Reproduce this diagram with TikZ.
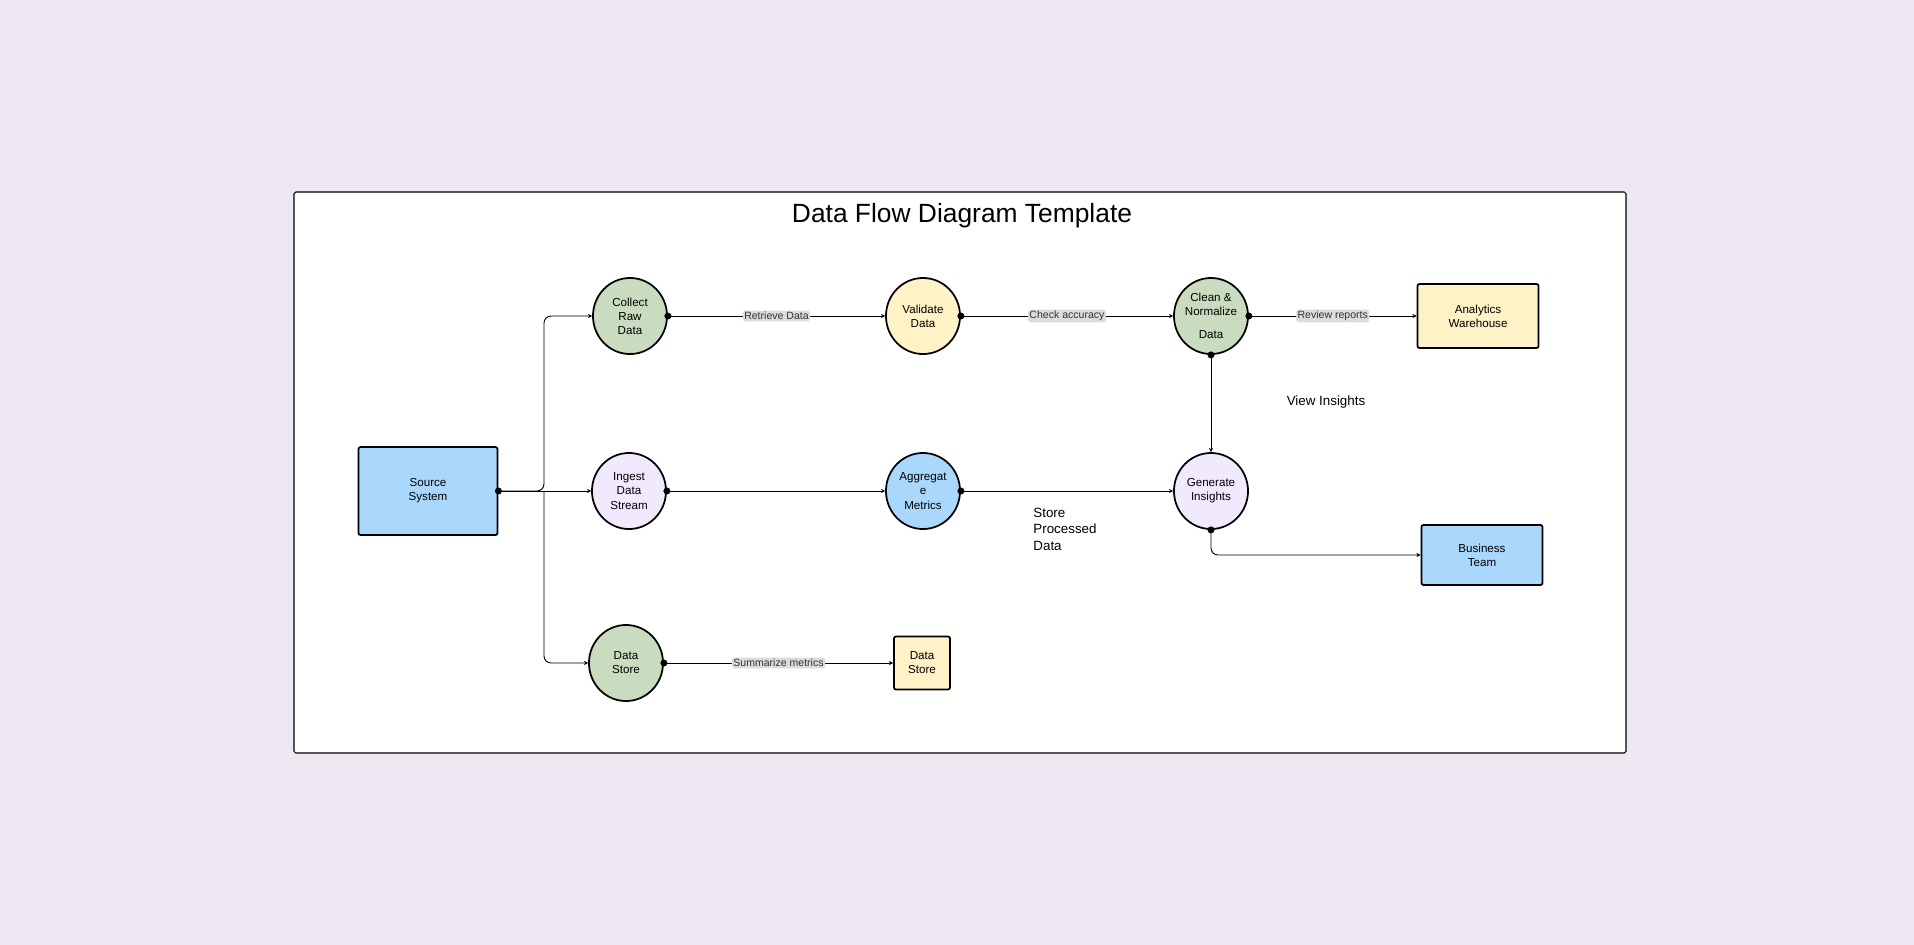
\documentclass[tikz,border=0pt]{standalone}
\usepackage{fontspec}
\setmainfont{Liberation Sans}
\usetikzlibrary{shapes.geometric,arrows.meta}
\definecolor{bgcol}{HTML}{EFE8F3}
\definecolor{greenc}{HTML}{CADCBF}
\definecolor{yellowc}{HTML}{FFF2C6}
\definecolor{bluec}{HTML}{AAD8FD}
\definecolor{lilac}{HTML}{F1EAFC}
\definecolor{labgray}{HTML}{DCDCDC}
\tikzset{
  proc/.style={ellipse,draw,line width=0.5pt,minimum width=0.74cm,minimum height=0.76cm,inner sep=0pt,align=center,font=\fontsize{3.3}{4}\selectfont},
  ent/.style={rectangle,rounded corners=0.6pt,draw,line width=0.5pt,align=center,font=\fontsize{3.3}{4}\selectfont},
  flow/.style={line width=0.25pt,-{Stealth[length=1.2pt,width=1.2pt]}},
  dot/.style={circle,fill,inner sep=0pt,minimum size=2pt},
  elab/.style={fill=labgray,rounded corners=0.5pt,inner sep=0.4pt,font=\fontsize{3}{3.5}\selectfont,text=black!80}
}
\begin{document}
\begin{tikzpicture}[x=0.01cm,y=-0.01cm]
\fill[bgcol] (0,0) rectangle (1914,945);
\draw[fill=white,rounded corners=0.5pt,line width=0.3pt] (294,192) rectangle (1626,753);
\node (title) at (962,216) {\fontsize{7.5}{9}\selectfont Data Flow Diagram Template};

% entities
\node[ent,fill=bluec,minimum width=1.39cm,minimum height=0.88cm] (source) at (428,491) {Source\\System};
\node[ent,fill=yellowc,minimum width=0.56cm,minimum height=0.53cm] (store2) at (922,663) {Data\\Store};
\node[ent,fill=yellowc,minimum width=1.21cm,minimum height=0.64cm] (warehouse) at (1478,316) {Analytics\\Warehouse};
\node[ent,fill=bluec,minimum width=1.21cm,minimum height=0.60cm] (team) at (1482,555) {Business\\Team};

% processes
\node[proc,fill=greenc] (collect) at (630,316) {Collect\\Raw\\Data};
\node[proc,fill=yellowc] (validate) at (923,316) {Validate\\Data};
\node[proc,fill=greenc] (clean) at (1211,316) {Clean \&\\Normalize\\[2.5pt]Data};
\node[proc,fill=lilac] (ingest) at (629,491) {Ingest\\Data\\Stream};
\node[proc,fill=bluec] (aggregate) at (923,491) {Aggregat\\e\\Metrics};
\node[proc,fill=lilac] (insights) at (1211,491) {Generate\\Insights};
\node[proc,fill=greenc] (store1) at (626,663) {Data\\Store};

% flows
\coordinate (split) at (544,491);
\draw[flow,rounded corners=2pt] (source.east) -- (split) |- (collect.west);
\draw[flow] (source.east) -- (ingest.west);
\draw[flow,rounded corners=2pt] (split) |- (store1.west);
\draw[flow] (collect.east) -- node[elab]{Retrieve Data} (validate.west);
\draw[flow] (validate.east) -- node[elab]{Check accuracy} (clean.west);
\draw[flow] (clean.east) -- node[elab]{Review reports} (warehouse.west);
\draw[flow] (ingest.east) -- (aggregate.west);
\draw[flow] (aggregate.east) -- (insights.west);
\draw[flow] (clean.south) -- (insights.north);
\draw[flow,rounded corners=2pt] (insights.south) |- (team.west);
\draw[flow] (store1.east) -- node[elab]{Summarize metrics} (store2.west);

% start dots
\foreach \p in {source.east,collect.east,validate.east,clean.east,clean.south,ingest.east,aggregate.east,insights.south,store1.east}
  \node[dot] at (\p) {};

% free labels
\node[font=\fontsize{3.8}{4.4}\selectfont] (viewlab) at (1326,402) {View Insights};
\node[font=\fontsize{3.8}{4.6}\selectfont,align=left,anchor=north west] (storelab) at (1021,496) {Store\\Processed\\Data};
\end{tikzpicture}
\end{document}
